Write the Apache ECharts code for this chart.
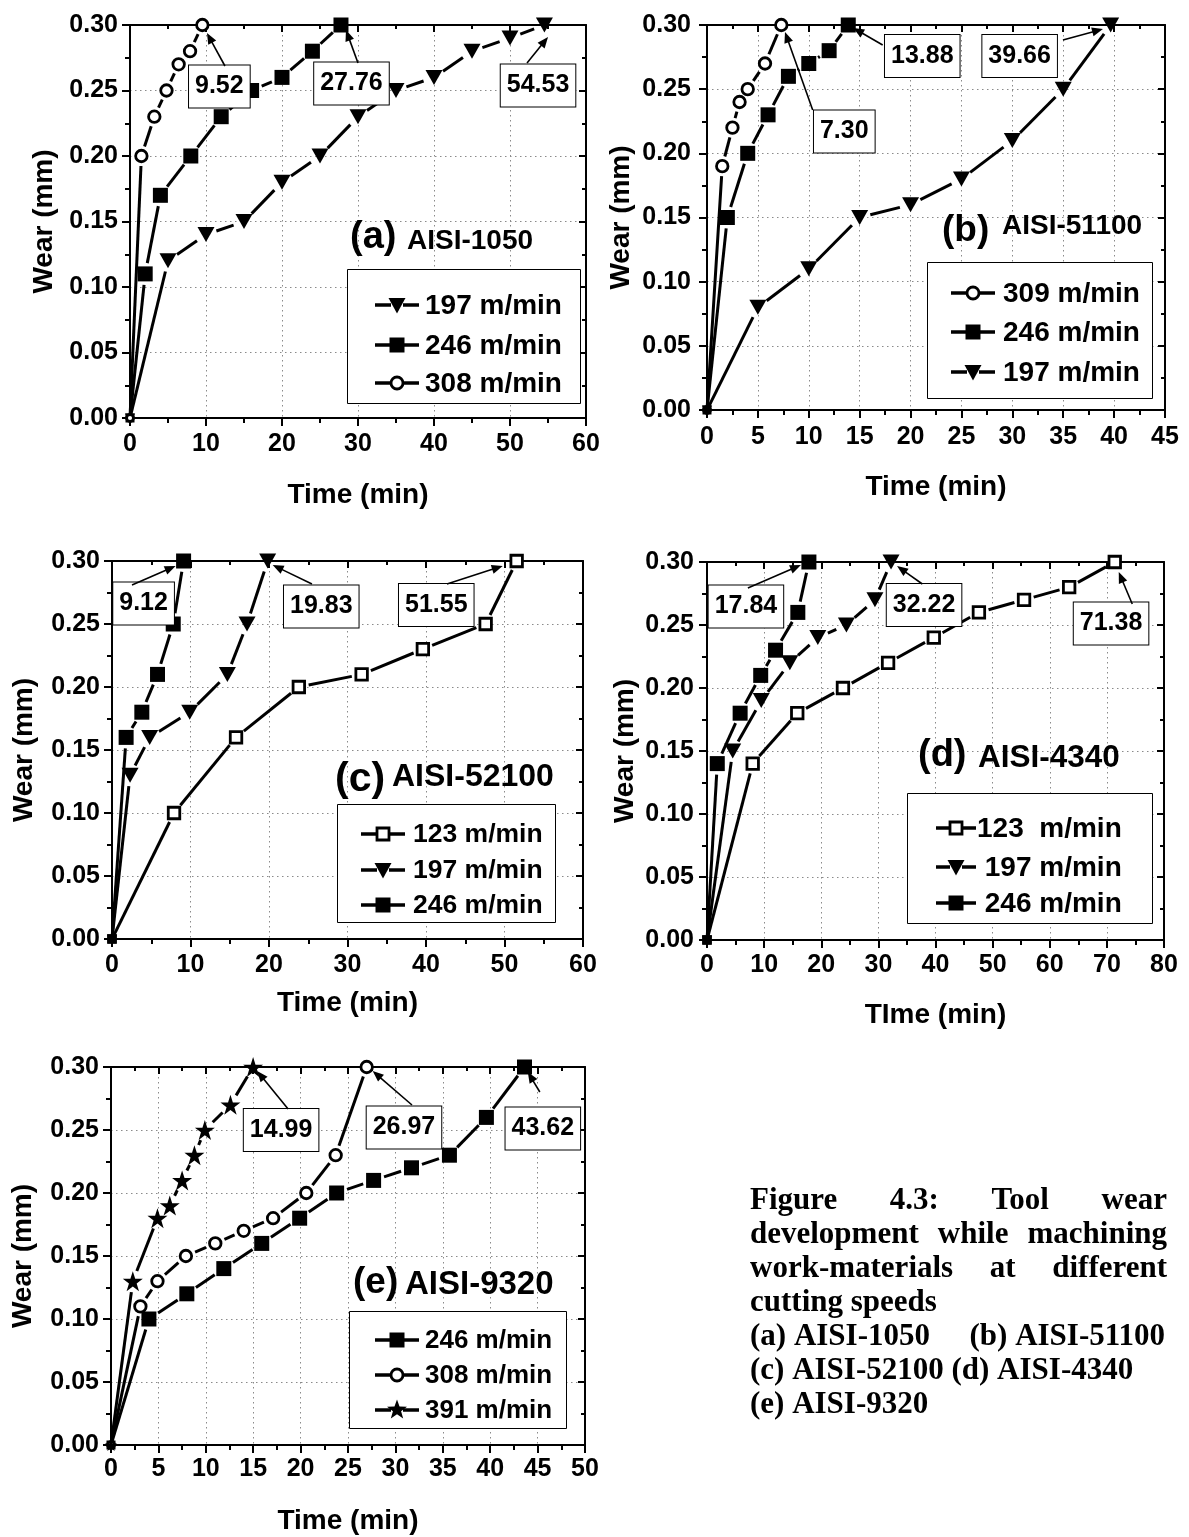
<!DOCTYPE html>
<html>
<head>
<meta charset="utf-8">
<title>Tool wear development</title>
<script src="https://cdn.jsdelivr.net/npm/echarts@6/dist/echarts.min.js"></script>
<style>
  html, body { margin: 0; padding: 0; background: #fff; }
  #chart { width: 1189px; height: 1537px; }
</style>
</head>
<body>
<div id="chart"></div>
<script>
// ---------- measured flank wear (mm) against cutting time (min) ----------
// (a) AISI-1050
const a197Time = [0, 5, 10, 15, 20, 25, 30, 35, 40, 45, 50, 54.53];
const a197Wear = [0, 0.12, 0.14, 0.15, 0.18, 0.20, 0.23, 0.25, 0.26, 0.28, 0.29, 0.30];
const a246Time = [0, 2, 4, 8, 12, 16, 20, 24, 27.76];
const a246Wear = [0, 0.11, 0.17, 0.20, 0.23, 0.25, 0.26, 0.28, 0.30];
const a308Time = [0, 1.5, 3.2, 4.8, 6.4, 7.9, 9.52];
const a308Wear = [0, 0.20, 0.23, 0.25, 0.27, 0.28, 0.30];

// (b) AISI-51100
const b309Time = [0, 1.5, 2.5, 3.2, 4, 5.7, 7.30];
const b309Wear = [0, 0.19, 0.22, 0.24, 0.25, 0.27, 0.30];
const b246Time = [0, 2, 4, 6, 8, 10, 12, 13.88];
const b246Wear = [0, 0.15, 0.20, 0.23, 0.26, 0.27, 0.28, 0.30];
const b197Time = [0, 5, 10, 15, 20, 25, 30, 35, 39.66];
const b197Wear = [0, 0.08, 0.11, 0.15, 0.16, 0.18, 0.21, 0.25, 0.30];

// (c) AISI-52100
const c123Time = [0, 7.9, 15.8, 23.8, 31.8, 39.6, 47.6, 51.55];
const c123Wear = [0, 0.10, 0.16, 0.20, 0.21, 0.23, 0.25, 0.30];
const c197Time = [0, 2.3, 4.8, 9.9, 14.7, 17.2, 19.83];
const c197Wear = [0, 0.13, 0.16, 0.18, 0.21, 0.25, 0.30];
const c246Time = [0, 1.8, 3.8, 5.8, 7.8, 9.12];
const c246Wear = [0, 0.16, 0.18, 0.21, 0.25, 0.30];

// (d) AISI-4340
const d123Time = [0, 8, 15.8, 23.8, 31.7, 39.7, 47.6, 55.5, 63.4, 71.38];
const d123Wear = [0, 0.14, 0.18, 0.20, 0.22, 0.24, 0.26, 0.27, 0.28, 0.30];
const d197Time = [0, 4.5, 9.5, 14.5, 19.4, 24.4, 29.4, 32.22];
const d197Wear = [0, 0.15, 0.19, 0.22, 0.24, 0.25, 0.27, 0.30];
const d246Time = [0, 1.8, 5.8, 9.4, 12.0, 15.9, 17.84];
const d246Wear = [0, 0.14, 0.18, 0.21, 0.23, 0.26, 0.30];

// (e) AISI-9320
const e246Time = [0, 4, 8, 11.9, 15.9, 19.9, 23.8, 27.7, 31.7, 35.7, 39.6, 43.62];
const e246Wear = [0, 0.10, 0.12, 0.14, 0.16, 0.18, 0.20, 0.21, 0.22, 0.23, 0.26, 0.30];
const e308Time = [0, 3.1, 4.9, 7.9, 11, 14, 17.1, 20.6, 23.7, 26.97];
const e308Wear = [0, 0.11, 0.13, 0.15, 0.16, 0.17, 0.18, 0.20, 0.23, 0.30];
const e391Time = [0, 2.3, 4.9, 6.2, 7.5, 8.8, 9.9, 12.6, 14.99];
const e391Wear = [0, 0.13, 0.18, 0.19, 0.21, 0.23, 0.25, 0.27, 0.30];

// wear axis shared by every panel
const wearMax = 0.30;
const wearStep = 0.05;

// ---------- styling ----------
const SANS = '"Liberation Sans", Arial, sans-serif';
const SERIF = '"Liberation Serif", "Times New Roman", serif';
const STAR = 'path://M50,2 L61.8,37.6 L99,37.6 L68.9,59.6 L80.4,95.1 L50,73.2 L19.6,95.1 L31.1,59.6 L1,37.6 L38.2,37.6 Z';

const MARKER = {
  tri:  { symbol: 'triangle', rotate: 180, size: [17, 15], fill: '#000', border: 0, gap: 11 },
  sq:   { symbol: 'rect', rotate: 0, size: [15, 15], fill: '#000', border: 0, gap: 11 },
  circ: { symbol: 'circle', rotate: 0, size: [11.5, 11.5], fill: '#fff', border: 2.8, gap: 10 },
  osq:  { symbol: 'rect', rotate: 0, size: [11.5, 11.5], fill: '#fff', border: 2.8, gap: 10 },
  star: { symbol: STAR, rotate: 0, size: [20, 20], fill: '#000', border: 0, gap: 11 }
};

// ---------- panel layout ----------
const panels = [
  {
    grid: { left: 130, top: 25, width: 456, height: 393 },
    xMax: 60, xStep: 10, xTitle: 'Time (min)', xNameGap: 63, xLabelMargin: 14, yNameGap: 72, yLabelMargin: 12,
    curves: [
      { label: '197 m/min', time: a197Time, wear: a197Wear, marker: 'tri' },
      { label: '246 m/min', time: a246Time, wear: a246Wear, marker: 'sq' },
      { label: '308 m/min', time: a308Time, wear: a308Wear, marker: 'circ' }
    ],
    legend: { x: 217, y: 244, w: 233, h: 134, rows: [36, 76, 114], line: [28, 72], text: 78, font: 28 },
    tag: { paren: '(a)', name: 'AISI-1050', px: 220, py: 213, ps: 38, nx: 277, ny: 216, ns: 28 },
    callouts: [
      { curve: 2, box: [17, 61.5], tail: [22.6, 41], head: [4.6, 8] },
      { curve: 1, box: [10.5, 58.5], tail: [17, 38], head: [5, 5] },
      { curve: 0, box: [-6.4, 60.5], tail: [-17.4, 38], head: [3.6, 12] }
    ]
  },
  {
    grid: { left: 707, top: 25, width: 458, height: 385 },
    xMax: 45, xStep: 5, xTitle: 'Time (min)', xNameGap: 63, xLabelMargin: 15, yNameGap: 72, yLabelMargin: 16,
    curves: [
      { label: '309 m/min', time: b309Time, wear: b309Wear, marker: 'circ' },
      { label: '246 m/min', time: b246Time, wear: b246Wear, marker: 'sq' },
      { label: '197 m/min', time: b197Time, wear: b197Wear, marker: 'tri' }
    ],
    legend: { x: 220, y: 237, w: 225, h: 136, rows: [31, 70, 110], line: [24, 68], text: 76, font: 28 },
    tag: { paren: '(b)', name: 'AISI-51100', px: 235, py: 206, ps: 37, nx: 295, ny: 201, ns: 28 },
    callouts: [
      { curve: 0, box: [63, 106.5], tail: [31.4, 85], head: [3.7, 7] },
      { curve: 1, box: [74, 31], tail: [34.4, 20], head: [5, 3] },
      { curve: 2, box: [-91, 31], tail: [-47.7, 15], head: [-7.7, 4] }
    ]
  },
  {
    grid: { left: 112, top: 561, width: 471, height: 378 },
    xMax: 60, xStep: 10, xTitle: 'Time (min)', xNameGap: 50, xLabelMargin: 14, yNameGap: 74, yLabelMargin: 12,
    curves: [
      { label: '123 m/min', time: c123Time, wear: c123Wear, marker: 'osq' },
      { label: '197 m/min', time: c197Time, wear: c197Wear, marker: 'tri' },
      { label: '246 m/min', time: c246Time, wear: c246Wear, marker: 'sq' }
    ],
    legend: { x: 225, y: 243, w: 218, h: 118, rows: [30, 66, 101], line: [24, 68], text: 76, font: 26.5 },
    tag: { paren: '(c)', name: 'AISI-52100', px: 223, py: 219, ps: 41, nx: 280, ny: 216, ns: 32 },
    callouts: [
      { curve: 2, box: [-40, 42.5], tail: [-51.6, 24], head: [-8, 5] },
      { curve: 1, box: [53.6, 45.5], tail: [44.3, 23], head: [5, 4] },
      { curve: 0, box: [-80.4, 44], tail: [-69.7, 23], head: [-14, 5] }
    ]
  },
  {
    grid: { left: 707, top: 562, width: 457, height: 378 },
    xMax: 80, xStep: 10, xTitle: 'TIme (min)', xNameGap: 61, xLabelMargin: 13, yNameGap: 68, yLabelMargin: 13,
    curves: [
      { label: '123  m/min', time: d123Time, wear: d123Wear, marker: 'osq' },
      { label: ' 197 m/min', time: d197Time, wear: d197Wear, marker: 'tri' },
      { label: ' 246 m/min', time: d246Time, wear: d246Wear, marker: 'sq' }
    ],
    legend: { x: 200, y: 231, w: 245, h: 130, rows: [35, 74, 110], line: [29, 69], text: 70, font: 28 },
    tag: { paren: '(d)', name: 'AISI-4340', px: 211, py: 194, ps: 38, nx: 271, ny: 196, ns: 31.5 },
    callouts: [
      { curve: 2, box: [-63, 44.5], tail: [-61, 26], head: [-8, 3] },
      { curve: 1, box: [33, 43], tail: [31.3, 22], head: [6, 4] },
      { curve: 0, box: [-3.7, 61.5], tail: [17.5, 42], head: [4, 10] }
    ]
  },
  {
    grid: { left: 111, top: 1067, width: 474, height: 378 },
    xMax: 50, xStep: 5, xTitle: 'Time (min)', xNameGap: 62, xLabelMargin: 12, yNameGap: 74, yLabelMargin: 12,
    curves: [
      { label: '246 m/min', time: e246Time, wear: e246Wear, marker: 'sq' },
      { label: '308 m/min', time: e308Time, wear: e308Wear, marker: 'circ' },
      { label: '391 m/min', time: e391Time, wear: e391Wear, marker: 'star' }
    ],
    legend: { x: 238, y: 244, w: 217, h: 117, rows: [29, 64, 99], line: [26, 70], text: 76, font: 26 },
    tag: { paren: '(e)', name: 'AISI-9320', px: 242, py: 216, ps: 37, nx: 294, ny: 218, ns: 33 },
    callouts: [
      { curve: 2, box: [28, 63], tail: [35, 42], head: [4, 4] },
      { curve: 1, box: [37.3, 60.5], tail: [45.3, 38], head: [6, 4] },
      { curve: 0, box: [18.3, 61.5], tail: [15.3, 25], head: [3.3, 5] }
    ]
  }
];

const captionLines = [
  { words: ['Figure', '4.3:', 'Tool', 'wear'], justify: true },
  { words: ['development', 'while', 'machining'], justify: true },
  { words: ['work-materials', 'at', 'different'], justify: true },
  { words: ['cutting speeds'], justify: false },
  { parts: ['(a) AISI-1050', '(b) AISI-51100'] },
  { words: ['(c) AISI-52100 (d) AISI-4340'], justify: false },
  { words: ['(e) AISI-9320'], justify: false }
];

// ---------- build axes and series ----------
const labelFont = { color: '#000', fontFamily: SANS, fontWeight: 'bold', fontSize: 25 };
const titleFont = { color: '#000', fontFamily: SANS, fontWeight: 'bold', fontSize: 28 };
const axisLine = { show: true, onZero: false, lineStyle: { color: '#000', width: 2 } };
const gridDots = { show: true, lineStyle: { color: '#8a8a8a', width: 1, type: [1.5, 3.5] } };

const grids = [], xAxes = [], yAxes = [], series = [];

panels.forEach((p, k) => {
  grids.push(Object.assign({ containLabel: false }, p.grid));

  const xBase = { gridIndex: k, type: 'value', min: 0, max: p.xMax, interval: p.xStep, axisLine };
  xAxes.push(Object.assign({}, xBase, {
    position: 'bottom',
    axisTick: { show: true, inside: false, length: 8, lineStyle: { color: '#000', width: 2 } },
    minorTick: { show: true, splitNumber: 2, length: 5, lineStyle: { color: '#000', width: 2 } },
    axisLabel: Object.assign({ show: true, margin: p.xLabelMargin, showMaxLabel: true, showMinLabel: true }, labelFont),
    splitLine: gridDots,
    name: p.xTitle, nameLocation: 'middle', nameGap: p.xNameGap, nameTextStyle: titleFont
  }));
  xAxes.push(Object.assign({}, xBase, {
    position: 'top',
    axisTick: { show: true, inside: true, length: 7, lineStyle: { color: '#000', width: 2 } },
    minorTick: { show: true, splitNumber: 2, length: 4, lineStyle: { color: '#000', width: 2 } },
    axisLabel: { show: false }, splitLine: { show: false }
  }));

  const yBase = { gridIndex: k, type: 'value', min: 0, max: wearMax, interval: wearStep, axisLine };
  yAxes.push(Object.assign({}, yBase, {
    position: 'left',
    axisTick: { show: true, inside: false, length: 8, lineStyle: { color: '#000', width: 2 } },
    minorTick: { show: true, splitNumber: 2, length: 5, lineStyle: { color: '#000', width: 2 } },
    axisLabel: Object.assign({ show: true, margin: p.yLabelMargin, formatter: v => v.toFixed(2) }, labelFont),
    splitLine: gridDots,
    name: 'Wear (mm)', nameLocation: 'middle', nameGap: p.yNameGap, nameTextStyle: titleFont
  }));
  yAxes.push(Object.assign({}, yBase, {
    position: 'right',
    axisTick: { show: true, inside: true, length: 7, lineStyle: { color: '#000', width: 2 } },
    minorTick: { show: true, splitNumber: 2, length: 4, lineStyle: { color: '#000', width: 2 } },
    axisLabel: { show: false }, splitLine: { show: false }
  }));

  p.curves.forEach(c => {
    const m = MARKER[c.marker];
    const pts = c.time.map((t, i) => [t, c.wear[i]]);
    // connecting segments stop short of each marker, leaving a small gap around it
    const segs = pts.slice(1).map((q, i) => [pts[i][0], pts[i][1], q[0], q[1], i === 0 ? 1 : 0]);
    series.push({
      type: 'custom', xAxisIndex: 2 * k, yAxisIndex: 2 * k, data: segs, z: 2, silent: true, clip: false,
      encode: { x: [0, 2], y: [1, 3] },
      renderItem: (params, api) => {
        const a = api.coord([api.value(0), api.value(1)]);
        const b = api.coord([api.value(2), api.value(3)]);
        const dx = b[0] - a[0], dy = b[1] - a[1];
        const len = Math.hypot(dx, dy);
        const g0 = api.value(4) ? 3 : m.gap;
        const g1 = m.gap;
        if (len <= g0 + g1) return null;
        const ux = dx / len, uy = dy / len;
        return {
          type: 'line',
          shape: { x1: a[0] + ux * g0, y1: a[1] + uy * g0, x2: b[0] - ux * g1, y2: b[1] - uy * g1 },
          style: { stroke: '#000', lineWidth: 3, lineCap: 'butt' }
        };
      }
    });
    // the starting point sits in the axis corner and is drawn smaller
    const originSize = m.size.map(s => s * 0.6);
    series.push({
      type: 'scatter', xAxisIndex: 2 * k, yAxisIndex: 2 * k, z: 3, silent: true, clip: false,
      data: pts.map((q, i) => (i === 0 ? { value: q, symbolSize: originSize } : q)),
      symbol: m.symbol, symbolSize: m.size, symbolRotate: m.rotate,
      itemStyle: { color: m.fill, borderColor: '#000', borderWidth: m.border, opacity: 1 },
      emphasis: { disabled: true }
    });
  });
});

const chart = echarts.init(document.getElementById('chart'), null, { renderer: 'canvas', width: 1189, height: 1537 });
chart.setOption({
  animation: false,
  backgroundColor: '#fff',
  grid: grids, xAxis: xAxes, yAxis: yAxes, series
});

// ---------- legends, material tags, end-of-life callouts, caption ----------
function markerShape(kind, cx, cy) {
  const st = { fill: '#000' };
  if (kind === 'tri') return { type: 'polygon', shape: { points: [[cx - 8.5, cy - 7], [cx + 8.5, cy - 7], [cx, cy + 8.5]] }, style: st, z: 60 };
  if (kind === 'sq') return { type: 'rect', shape: { x: cx - 7.5, y: cy - 7.5, width: 15, height: 15 }, style: st, z: 60 };
  if (kind === 'circ') return { type: 'circle', shape: { cx, cy, r: 6 }, style: { fill: '#fff', stroke: '#000', lineWidth: 2.8 }, z: 60 };
  if (kind === 'osq') return { type: 'rect', shape: { x: cx - 6, y: cy - 6, width: 12, height: 12 }, style: { fill: '#fff', stroke: '#000', lineWidth: 2.8 }, z: 60 };
  const pts = [];
  for (let i = 0; i < 10; i++) {
    const r = i % 2 === 0 ? 10.5 : 4.3;
    const ang = -Math.PI / 2 + i * Math.PI / 5;
    pts.push([cx + r * Math.cos(ang), cy + r * Math.sin(ang)]);
  }
  return { type: 'polygon', shape: { points: pts }, style: st, z: 60 };
}

const graphic = [];

panels.forEach((p, k) => {
  const gx = p.grid.left, gy = p.grid.top;

  // legend box
  const L = p.legend;
  const bx = gx + L.x, by = gy + L.y;
  graphic.push({ type: 'rect', shape: { x: bx + 0.5, y: by + 0.5, width: L.w, height: L.h }, style: { fill: '#fff', stroke: '#000', lineWidth: 1 }, z: 50 });
  p.curves.forEach((c, j) => {
    const ry = by + L.rows[j];
    const x0 = bx + L.line[0], x1 = bx + L.line[1];
    const mx = (x0 + x1) / 2;
    graphic.push({ type: 'line', shape: { x1: x0, y1: ry, x2: mx - 6, y2: ry }, style: { stroke: '#000', lineWidth: 3.5 }, z: 55 });
    graphic.push({ type: 'line', shape: { x1: mx + 6, y1: ry, x2: x1, y2: ry }, style: { stroke: '#000', lineWidth: 3.5 }, z: 55 });
    graphic.push(markerShape(c.marker, mx, ry));
    graphic.push({
      type: 'text', z: 60,
      style: { text: c.label, x: bx + L.text, y: ry + 1, fill: '#000', font: 'bold ' + L.font + 'px ' + SANS, align: 'left', verticalAlign: 'middle' }
    });
  });

  // material tag
  const T = p.tag;
  graphic.push({ type: 'text', z: 40, style: { text: T.paren, x: gx + T.px, y: gy + T.py, fill: '#000', font: 'bold ' + T.ps + 'px ' + SANS, align: 'left', verticalAlign: 'middle' } });
  graphic.push({ type: 'text', z: 40, style: { text: T.name, x: gx + T.nx, y: gy + T.ny, fill: '#000', font: 'bold ' + T.ns + 'px ' + SANS, align: 'left', verticalAlign: 'middle' } });

  // callouts giving the time at which wear reaches the limit
  p.callouts.forEach(co => {
    const c = p.curves[co.curve];
    const n = c.time.length - 1;
    const pt = chart.convertToPixel({ xAxisIndex: 2 * k, yAxisIndex: 2 * k }, [c.time[n], c.wear[n]]);
    graphic.push({
      type: 'text', z: 70,
      style: {
        text: c.time[n].toFixed(2), x: pt[0] + co.box[0], y: pt[1] + co.box[1],
        fill: '#000', font: 'bold 25px ' + SANS, align: 'center', verticalAlign: 'middle',
        backgroundColor: '#fff', borderColor: '#000', borderWidth: 1, padding: [9, 6, 8, 6]
      }
    });
    const tx = pt[0] + co.tail[0], ty = pt[1] + co.tail[1];
    const hx = pt[0] + co.head[0], hy = pt[1] + co.head[1];
    const dx = hx - tx, dy = hy - ty, len = Math.hypot(dx, dy);
    const ux = dx / len, uy = dy / len;
    const headLen = 11, headHalf = 4.5;
    const bxh = hx - ux * headLen, byh = hy - uy * headLen;
    graphic.push({ type: 'line', shape: { x1: tx, y1: ty, x2: bxh + ux, y2: byh + uy }, style: { stroke: '#000', lineWidth: 1.6 }, z: 70 });
    graphic.push({
      type: 'polygon', z: 70,
      shape: { points: [[hx, hy], [bxh - uy * headHalf, byh + ux * headHalf], [bxh + uy * headHalf, byh - ux * headHalf]] },
      style: { fill: '#000' }
    });
  });
});

// caption, justified between fixed margins
const capFont = 'bold 31px ' + SERIF;
const capLeft = 750, capRight = 1167, capTop = 1201, capStep = 34;
const measure = document.createElement('canvas').getContext('2d');
measure.font = capFont;
captionLines.forEach((line, i) => {
  const y = capTop + i * capStep;
  if (line.parts) {
    graphic.push({ type: 'text', style: { text: line.parts[0], x: capLeft, y, fill: '#000', font: capFont, align: 'left', verticalAlign: 'middle' } });
    graphic.push({ type: 'text', style: { text: line.parts[1], x: capRight - 2, y, fill: '#000', font: capFont, align: 'right', verticalAlign: 'middle' } });
    return;
  }
  if (!line.justify) {
    graphic.push({ type: 'text', style: { text: line.words.join(' '), x: capLeft, y, fill: '#000', font: capFont, align: 'left', verticalAlign: 'middle' } });
    return;
  }
  const widths = line.words.map(w => measure.measureText(w).width);
  const total = widths.reduce((s, w) => s + w, 0);
  const space = (capRight - capLeft - total) / (line.words.length - 1);
  let x = capLeft;
  line.words.forEach((w, j) => {
    graphic.push({ type: 'text', style: { text: w, x, y, fill: '#000', font: capFont, align: 'left', verticalAlign: 'middle' } });
    x += widths[j] + space;
  });
});

chart.setOption({ graphic });
</script>
</body>
</html>
